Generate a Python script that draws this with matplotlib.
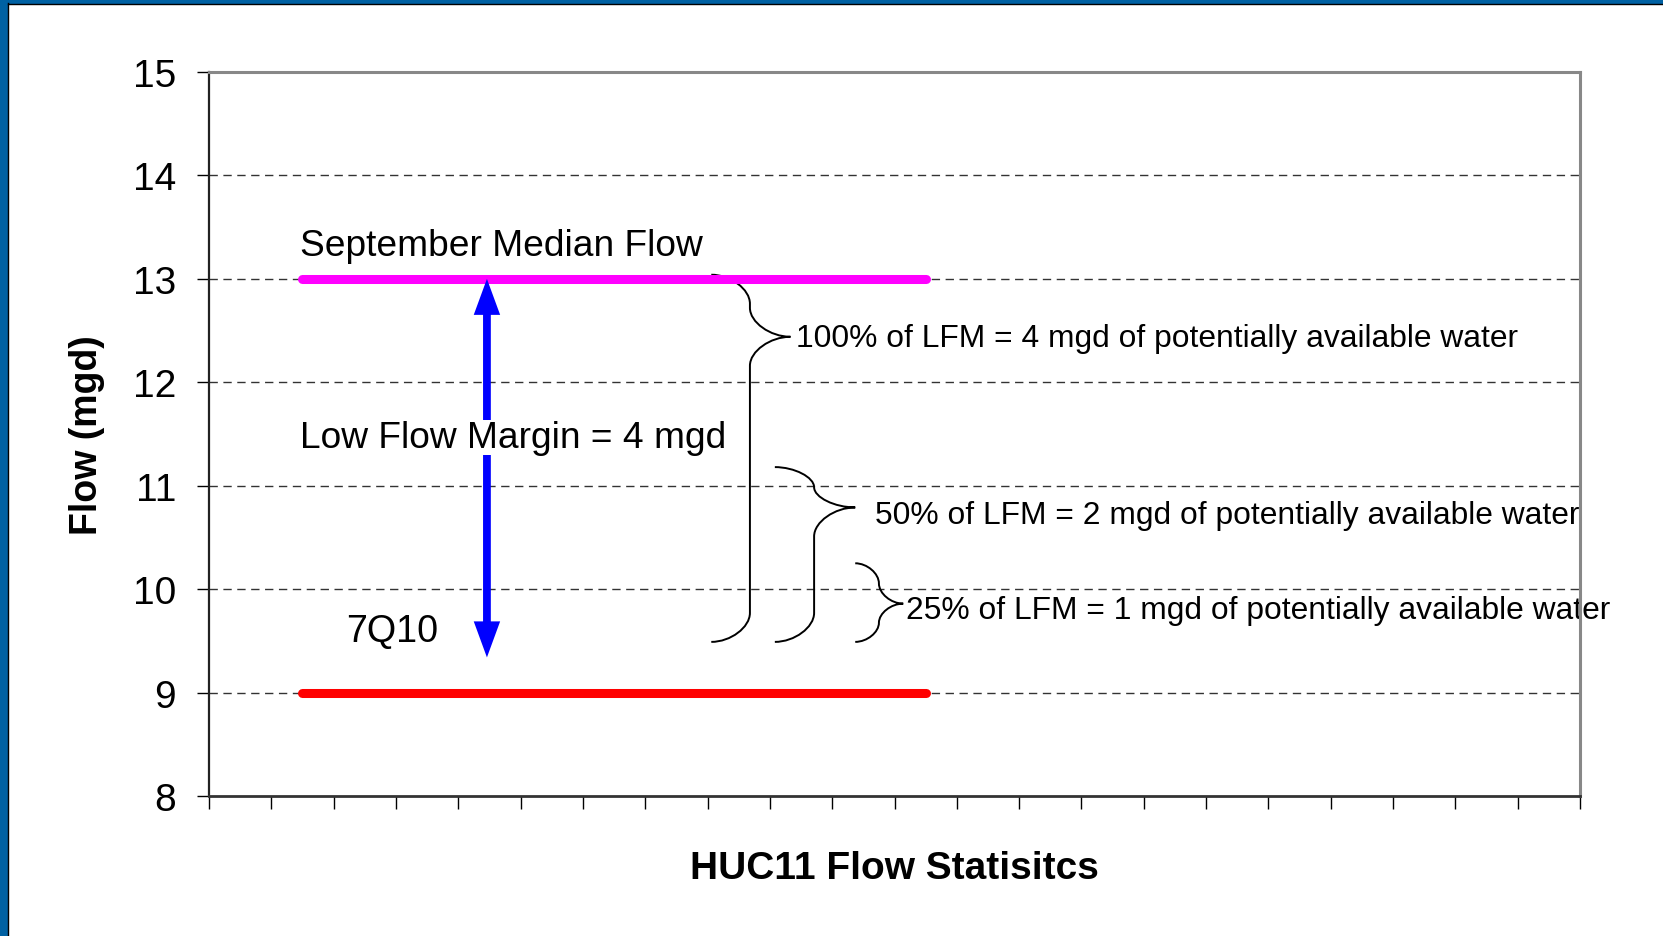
import matplotlib
matplotlib.use("Agg")
import matplotlib.pyplot as plt
from matplotlib.path import Path
from matplotlib.patches import PathPatch, FancyArrowPatch, Rectangle

plt.rcParams['font.family'] = ['Liberation Sans', 'DejaVu Sans']

# flow levels (mgd)
level_names = ['September Median Flow', '7Q10']
level_values = [13, 9]
level_colors = ['#ff00ff', '#ff0000']
level_span = [1.5, 11.5]          # x extent of the level bars
level_label_pos = [(1.46, 13.32), (2.2, 9.6)]
level_label_size = [26.7, 27.2]

# low flow margin arrow
margin_mgd = level_values[0] - level_values[1]
arrow_x = 4.46
arrow_bottom = 9.34
margin_label_pos = (1.46, 11.47)

# braces: share of the low flow margin
brace_pct = [100, 50, 25]
brace_top = [13.04, 11.18, 10.25]
brace_bottom = [9.49, 9.49, 9.49]
brace_tip = [12.44, 10.79, 9.86]
brace_x = [(8.06, 8.68, 9.33), (9.08, 9.71, 10.37), (10.37, 10.75, 11.14)]
brace_label_pos = [(9.42, 12.43), (10.69, 10.72), (11.19, 9.8)]

yticks = list(range(8, 16))
n_xticks = 23


def brace(ax, x0, xs, xt, ytop, ybot, ytip, rmax=0.28):
    r1 = min(rmax, (ytop - ytip) / 2)
    r2 = min(rmax, (ytip - ybot) / 2)
    k = 0.5
    verts = [
        (x0, ytop),
        (x0 + (xs - x0) * k, ytop), (xs, ytop - r1 * k), (xs, ytop - r1),
        (xs, ytip + r1),
        (xs, ytip + r1 * k), (xs + (xt - xs) * k, ytip), (xt, ytip),
        (xs + (xt - xs) * k, ytip), (xs, ytip - r2 * k), (xs, ytip - r2),
        (xs, ybot + r2),
        (xs, ybot + r2 * k), (x0 + (xs - x0) * k, ybot), (x0, ybot),
    ]
    codes = [Path.MOVETO,
             Path.CURVE4, Path.CURVE4, Path.CURVE4,
             Path.LINETO,
             Path.CURVE4, Path.CURVE4, Path.CURVE4,
             Path.CURVE4, Path.CURVE4, Path.CURVE4,
             Path.LINETO,
             Path.CURVE4, Path.CURVE4, Path.CURVE4]
    ax.add_patch(PathPatch(Path(verts, codes), facecolor='none',
                           edgecolor='black', lw=1.4, clip_on=False, zorder=3))


fig = plt.figure(figsize=(16.63, 9.37), dpi=100)
ax = fig.add_axes([209 / 1663, 1 - 797 / 937, 1371 / 1663, 724 / 937])

# slide frame
fig.patches.append(Rectangle((0, 0), 7 / 1663, 1, transform=fig.transFigure,
                             color='#0061a3', zorder=0))
fig.patches.append(Rectangle((0, 1 - 4 / 937), 1, 4 / 937, transform=fig.transFigure,
                             color='#0061a3', zorder=0))
fig.lines.append(plt.Line2D([7.5 / 1663, 7.5 / 1663], [0, 1 - 4 / 937], transform=fig.transFigure,
                            color='black', lw=1))
fig.lines.append(plt.Line2D([7.5 / 1663, 1], [1 - 4.5 / 937, 1 - 4.5 / 937], transform=fig.transFigure,
                            color='black', lw=1))

ax.set_xlim(0, n_xticks - 1)
ax.set_ylim(yticks[0], yticks[-1])
ax.set_xticks(range(n_xticks))
ax.set_xticklabels([])
ax.set_yticks(yticks)
ax.tick_params(axis='y', direction='out', length=8.6, width=1, labelsize=28, pad=15)
ax.tick_params(axis='x', direction='out', length=9.4, width=1)
for y in yticks[1:-1]:
    ax.axhline(y, color='#333333', lw=1, ls=(0, (6, 4)), zorder=1)

ax.spines['left'].set_color('#222222')
ax.spines['left'].set_linewidth(1.6)
ax.spines['bottom'].set_color('#333333')
ax.spines['bottom'].set_linewidth(2)
for s in ['top', 'right']:
    ax.spines[s].set_color('#888888')
    ax.spines[s].set_linewidth(2.2)

# level bars
for name, val, col, (tx, ty), fs in zip(level_names, level_values, level_colors,
                                        level_label_pos, level_label_size):
    ax.plot(level_span, [val, val], color=col, lw=6.5, solid_capstyle='round', zorder=4)
    ax.text(tx, ty, name, fontsize=fs, va='center', ha='left', zorder=5)

# double-headed margin arrow
arrow = FancyArrowPatch((arrow_x, arrow_bottom), (arrow_x, level_values[0]),
                        arrowstyle='<|-|>,head_length=15,head_width=5.5',
                        mutation_scale=1, color='#0000ff', lw=5.6,
                        shrinkA=0, shrinkB=0, joinstyle='miter', capstyle='butt', zorder=5)
ax.add_patch(arrow)
ax.text(margin_label_pos[0], margin_label_pos[1], f'Low Flow Margin = {margin_mgd} mgd',
        fontsize=26.7, va='center', ha='left', zorder=6,
        bbox=dict(facecolor='white', edgecolor='none', pad=0))

# braces
for pct, yt, yb, yp, (x0, xs, xt), (lx, ly) in zip(brace_pct, brace_top, brace_bottom, brace_tip,
                                                   brace_x, brace_label_pos):
    brace(ax, x0, xs, xt, yt, yb, yp)
    mgd = margin_mgd * pct / 100
    ax.text(lx, ly, f'{pct}% of LFM = {mgd:g} mgd of potentially available water',
            fontsize=22.9, va='center', ha='left', zorder=2, clip_on=False)

ax.set_xlabel('HUC11 Flow Statisitcs', fontsize=28, fontweight='bold')
ax.xaxis.label.set_va('baseline')
ax.xaxis.set_label_coords(0.5, (797 - 879) / 724)
ax.set_ylabel('Flow (mgd)', fontsize=27, fontweight='bold')
ax.yaxis.label.set_va('center')
ax.yaxis.set_label_coords((87 - 209) / 1371, 0.5)

fig.savefig('out.png', dpi=100)
